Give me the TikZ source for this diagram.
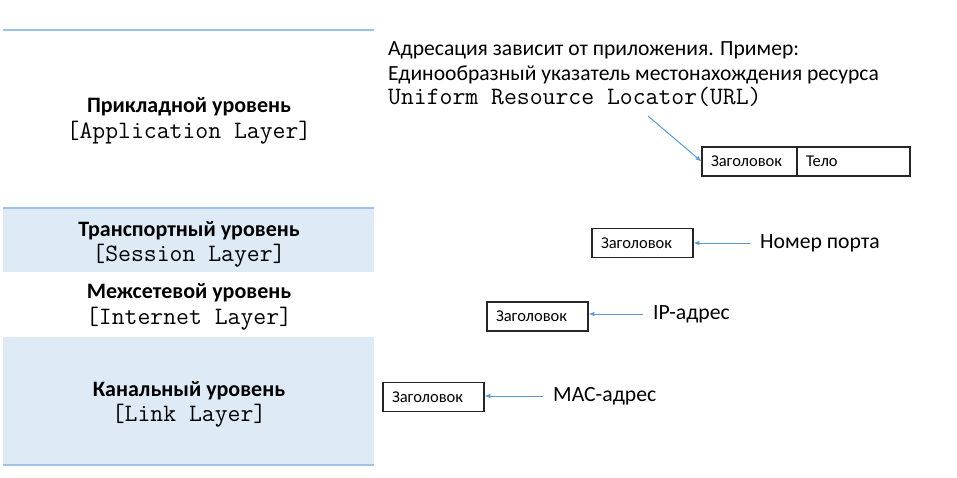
\documentclass[tikz,border=0pt]{standalone}
\usepackage{fontspec}
\setmainfont{Carlito}
\usetikzlibrary{positioning}
\definecolor{bandblue}{RGB}{222,235,247}
\definecolor{lineblue}{RGB}{157,195,230}
\definecolor{arrblue}{RGB}{91,155,213}
\tikzset{
  layername/.style={anchor=base, inner sep=0pt, font=\fontsize{22}{26}\selectfont\bfseries},
  layercode/.style={anchor=base, inner sep=0pt, font=\fontsize{25}{29}\selectfont\ttfamily},
  hdrbox/.style={draw=black!85, line width=1.1pt, minimum height=29pt, align=left, inner xsep=9pt, font=\fontsize{16.5}{19}\selectfont},
  addr/.style={anchor=west, inner sep=0pt, inner xsep=10pt, font=\fontsize{21.7}{26}\selectfont},
  note/.style={anchor=base west, inner sep=0pt, font=\fontsize{21.6}{26}\selectfont},
}
\begin{document}
\begin{tikzpicture}[x=1pt,y=-1pt]
\useasboundingbox (0,0) rectangle (957,477);
\fill[bandblue] (3,208) rectangle (374,272);
\fill[bandblue] (3,337) rectangle (374,465);
\draw[lineblue, line width=1.5pt] (3,30)--(374,30) (3,208)--(374,208) (3,465)--(374,465);

\node[layername] (appname) at (189,112.7) {Прикладной уровень};
\node[layercode] (appcode) at (189,138) {[Application Layer]};
\node[layername] (tcpname) at (189,236) {Транспортный уровень};
\node[layercode] (tcpcode) at (189,261.7) {[Session Layer]};
\node[layername] (ipname) at (189,298.3) {Межсетевой уровень};
\node[layercode] (ipcode) at (189,324.5) {[Internet Layer]};
\node[layername] (linkname) at (189,396.7) {Канальный уровень};
\node[layercode] (linkcode) at (189,421.7) {[Link Layer]};

\node[note] (url1) at (388,55) {Адресация зависит от приложения. Пример:};
\node[note] (url2) at (388,80) {Единообразный указатель местонахождения ресурса};
\node[note, font=\fontsize{25}{29}\selectfont\ttfamily] (url3) at (388,104) {Uniform Resource Locator(URL)};

\node[hdrbox, text width=77pt] (apphead) at (749.5,161.5) {Заголовок};
\node[hdrbox, text width=95pt] (appbody) at (853.5,161.5) {Тело};
\node[hdrbox, text width=83pt] (tcphead) at (642.5,243) {Заголовок};
\node[hdrbox, text width=83pt] (iphead) at (537.5,316.5) {Заголовок};
\node[hdrbox, text width=83pt] (linkhead) at (433.5,397) {Заголовок};

\node[addr] (port) at (750,243) {Номер порта};
\node[addr] (ipaddr) at (643,314) {IP-адрес};
\node[addr] (macaddr) at (543,396) {MAC-адрес};
\coordinate (urltail) at (648,116);

\draw[->,>=latex, arrblue, line width=1pt] (urltail) -- (apphead.west);
\draw[->,>=latex, arrblue, line width=1pt] (port.west) -- (port.west -| tcphead.east);
\draw[->,>=latex, arrblue, line width=1pt] (ipaddr.west) -- (ipaddr.west -| iphead.east);
\draw[->,>=latex, arrblue, line width=1pt] (macaddr.west) -- (macaddr.west -| linkhead.east);
\end{tikzpicture}
\end{document}
